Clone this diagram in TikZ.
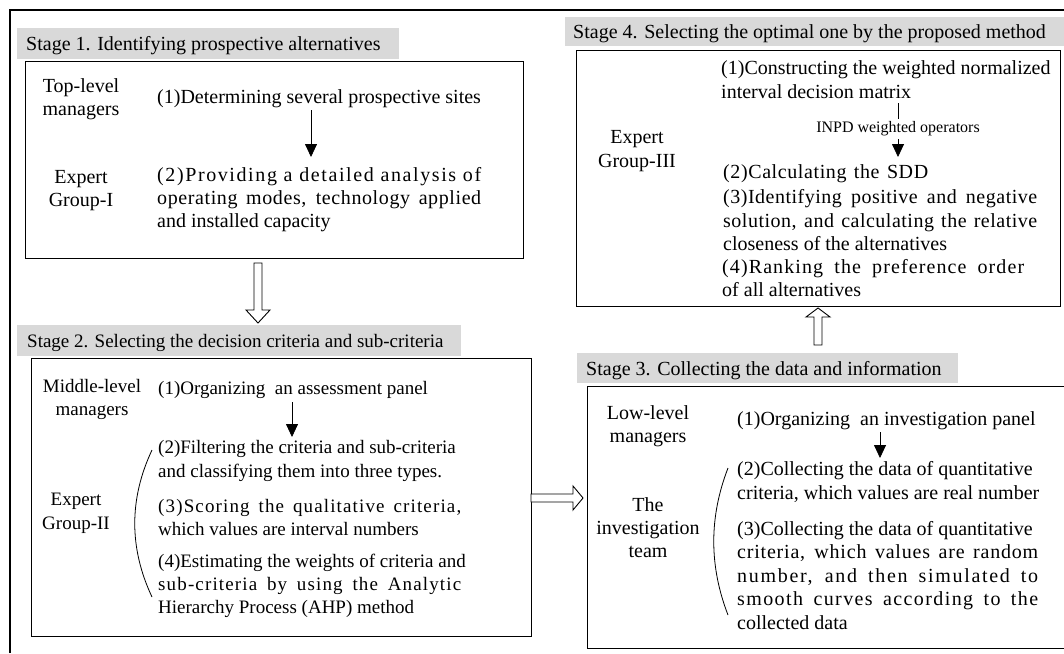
\documentclass[tikz,border=0pt]{standalone}
\usepackage{fontspec}
\setmainfont{Liberation Serif}
\usetikzlibrary{arrows.meta,calc}
\definecolor{bargray}{HTML}{D9D9D9}
\newcommand\stagefont{\fontsize{20}{23}\selectfont}
\newcommand\stwofont{\fontsize{19}{23}\selectfont}
\newcommand\opfont{\fontsize{16}{18}\selectfont}
\newcommand\spreadln[3]{\makebox[#1][s]{\addfontfeatures{LetterSpace=#2}#3}}
\newcommand\myharrow[4]{%
  \coordinate (#3) at ($(#2)!#4!(#1)$);
  \draw[hollowarrow] ($(#1)!4pt!90:(#2)$) -- ($(#3)!4pt!90:(#2)$) -- ($(#3)!12pt!90:(#2)$) -- (#2)
    -- ($(#3)!12pt!-90:(#2)$) -- ($(#3)!4pt!-90:(#2)$) -- ($(#1)!4pt!-90:(#2)$) -- cycle;}
\begin{document}
\begin{tikzpicture}[x=1pt,y=1pt,
  stagebox/.style={draw=black, line width=0.9pt, anchor=north west, inner sep=0pt},
  openbox/.style={draw=none, anchor=north west, inner sep=0pt},
  stagebar/.style={fill=bargray, draw=none, anchor=north west, inner sep=0pt},
  ttl/.style={anchor=base west, inner sep=0pt, font=\stagefont},
  txt/.style={anchor=base west, inner sep=0pt, font=\stagefont},
  txttwo/.style={anchor=base west, inner sep=0pt, font=\stwofont},
  lbl/.style={anchor=base, inner sep=0pt, font=\stagefont},
  lbltwo/.style={anchor=base, inner sep=0pt, font=\stwofont},
  thinarrow/.style={line width=0.8pt, -{Triangle[width=12pt,length=13pt]}},
  hollowarrow/.style={draw=black, line width=0.9pt, fill=white, line join=miter},
  outerframe/.style={line width=1.6pt},
  bracearc/.style={line width=0.8pt}
]
\useasboundingbox (0,0) rectangle (1064,-653);
\draw[outerframe] (10,-653) -- (10,-10) -- (1064,-10);

% ---------- Stage 1 ----------
\node[stagebar, minimum width=382pt, minimum height=31pt] (s1bar) at (17,-28) {};
\node[ttl] (s1title) at (26,-50) {Stage 1. Identifying prospective alternatives};
\node[stagebox, minimum width=498pt, minimum height=197pt] (s1box) at (25,-61) {};
\node[lbl] (s1la) at (81,-92) {Top-level};
\node[lbl] (s1lb) at (81,-115) {managers};
\node[lbl] (s1lc) at (81,-183) {Expert};
\node[lbl] (s1ld) at (81,-206) {Group-I};
\node[txt] (s1t1) at (157,-103) {(1)Determining several prospective sites};
\node[txt] (s1t2a) at (157,-181) {\spreadln{324pt}{8}{(2)Providing a detailed analysis of}};
\node[txt] (s1t2b) at (157,-204) {\spreadln{324pt}{3}{operating modes, technology applied}};
\node[txt] (s1t2c) at (157,-227) {and installed capacity};
\coordinate (s1a) at (311,-110);
\coordinate (s1b) at (311,-157);
\draw[thinarrow] (s1a) -- (s1b);

% ---------- Stage 2 ----------
\node[stagebar, minimum width=444pt, minimum height=31pt] (s2bar) at (17,-325) {};
\node[ttl, font=\stwofont] (s2title) at (27,-347) {Stage 2. Selecting the decision criteria and sub-criteria};
\node[stagebox, minimum width=500pt, minimum height=278pt] (s2box) at (31,-358) {};
\node[lbltwo] (s2la) at (92,-392) {Middle-level};
\node[lbltwo] (s2lb) at (92,-415) {managers};
\node[lbltwo] (s2lc) at (76,-505) {Expert};
\node[lbltwo] (s2ld) at (76,-529) {Group-II};
\node[txttwo] (s2t1) at (158,-394) {(1)Organizing~ an assessment panel};
\node[txttwo] (s2t2a) at (158,-453) {(2)Filtering the criteria and sub-criteria};
\node[txttwo] (s2t2b) at (158,-477) {and classifying them into three types.};
\node[txttwo] (s2t3a) at (158,-512) {\spreadln{303pt}{6}{(3)Scoring the qualitative criteria,}};
\node[txttwo] (s2t3b) at (158,-535) {which values are interval numbers};
\node[txttwo] (s2t4a) at (158,-567) {(4)Estimating the weights of criteria and};
\node[txttwo] (s2t4b) at (158,-590) {\spreadln{303pt}{6}{sub-criteria by using the Analytic}};
\node[txttwo] (s2t4c) at (158,-613) {Hierarchy Process (AHP) method};
\coordinate (s2a) at (292,-402);
\coordinate (s2b) at (292,-437);
\draw[thinarrow] (s2a) -- (s2b);
\coordinate (s2c) at (152,-450);
\coordinate (s2d) at (152,-597);
\draw[bracearc] (s2c) .. controls (129,-499) and (129,-548) .. (s2d);

% ---------- Stage 3 ----------
\node[stagebar, minimum width=381pt, minimum height=30pt] (s3bar) at (577,-353) {};
\node[ttl] (s3title) at (586,-375) {Stage 3. Collecting the data and information};
\node[openbox, minimum width=477pt, minimum height=262pt] (s3box) at (587,-386) {};
\draw[line width=0.9pt] (s3box.north east) -- (s3box.north west) -- (s3box.south west) -- (s3box.south east);
\node[lbl] (s3la) at (648,-419) {Low-level};
\node[lbl] (s3lb) at (648,-442) {managers};
\node[lbl] (s3lc) at (648,-511) {The};
\node[lbl] (s3ld) at (648,-534) {investigation};
\node[lbl] (s3le) at (648,-557) {team};
\node[txt] (s3t1) at (737,-425) {(1)Organizing~ an investigation panel};
\node[txt] (s3t2a) at (737,-475) {(2)Collecting the data of quantitative};
\node[txt] (s3t2b) at (737,-499) {criteria, which values are real number};
\node[txt] (s3t3a) at (737,-535) {(3)Collecting the data of quantitative};
\node[txt] (s3t3b) at (737,-558) {\spreadln{301pt}{4}{criteria, which values are random}};
\node[txt] (s3t3c) at (737,-582) {\spreadln{301pt}{8.5}{number, and then simulated to}};
\node[txt] (s3t3d) at (737,-605) {\spreadln{301pt}{7}{smooth curves according to the}};
\node[txt] (s3t3e) at (737,-629) {collected data};
\coordinate (s3a) at (880,-432);
\coordinate (s3b) at (880,-458);
\draw[thinarrow] (s3a) -- (s3b);
\coordinate (s3c) at (728,-468);
\coordinate (s3d) at (728,-615);
\draw[bracearc] (s3c) .. controls (709,-517) and (709,-566) .. (s3d);

% ---------- Stage 4 ----------
\node[stagebar, minimum width=499pt, minimum height=29pt] (s4bar) at (565,-17) {};
\node[ttl] (s4title) at (573,-38) {Stage 4. Selecting the optimal one by the proposed method};
\node[stagebox, minimum width=484pt, minimum height=256pt] (s4box) at (576,-50) {};
\node[lbl] (s4la) at (637,-143) {Expert};
\node[lbl] (s4lb) at (637,-167) {Group-III};
\node[txt] (s4t1a) at (721,-74) {(1)Constructing the weighted normalized};
\node[txt] (s4t1b) at (721,-98) {interval decision matrix};
\node[txt] (s4t2) at (723,-178) {\spreadln{205pt}{3}{(2)Calculating the SDD}};
\node[txt] (s4t3a) at (723,-203) {\spreadln{314pt}{2.5}{(3)Identifying positive and negative}};
\node[txt] (s4t3b) at (723,-227) {\spreadln{314pt}{2.5}{solution, and calculating the relative}};
\node[txt] (s4t3c) at (723,-250) {closeness of the alternatives};
\node[txt] (s4t4a) at (722,-273) {\spreadln{302pt}{5.5}{(4)Ranking the preference order}};
\node[txt] (s4t4b) at (722,-296) {of all alternatives};
\coordinate (s4a) at (898,-103);
\coordinate (s4b) at (898,-157);
\draw[thinarrow] (s4a) -- node[fill=white, inner xsep=1pt, inner ysep=3pt, font=\opfont, yshift=1pt] (s4op) {INPD weighted operators} (s4b);

% ---------- hollow arrows between stages ----------
\coordinate (h1a) at (258,-263);
\coordinate (h1b) at (258,-323);
\myharrow{h1a}{h1b}{h1h}{13pt}
\coordinate (h2a) at (531,-498);
\coordinate (h2b) at (583,-498);
\myharrow{h2a}{h2b}{h2h}{10pt}
\coordinate (h3a) at (818,-345);
\coordinate (h3b) at (818,-308);
\myharrow{h3a}{h3b}{h3h}{9pt}
\end{tikzpicture}
\end{document}
